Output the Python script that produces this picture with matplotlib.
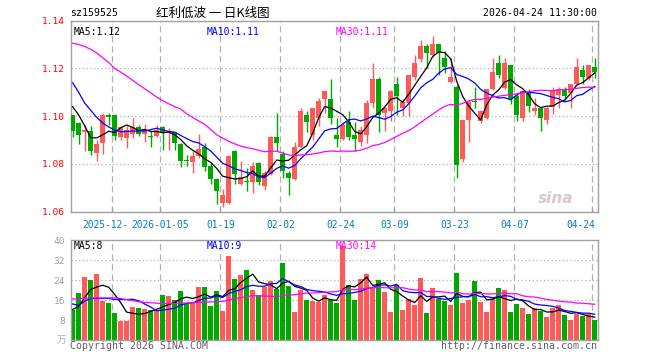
import numpy as np
import pandas as pd
import matplotlib
matplotlib.use('Agg')
import matplotlib.pyplot as plt

plt.rcParams['font.family'] = ['DejaVu Sans Mono', 'Noto Sans CJK SC']

# daily candles, 2025-12-11 .. 2026-04-24 (88 trading days)
opens = [1.1003, 1.0972, 1.0933, 1.0936, 1.0844, 1.0886, 1.1006, 1.1006, 1.0911, 1.0907,
         1.0925, 1.0956, 1.0925, 1.0915, 1.0915, 1.0956, 1.0928, 1.0933, 1.0885, 1.0815,
         1.0807, 1.0835, 1.0871, 1.0790, 1.0735, 1.0638, 1.0635, 1.0856, 1.0714, 1.0725,
         1.0724, 1.0804, 1.0708, 1.0758, 1.0914, 1.0842, 1.0763, 1.0735, 1.0872, 1.1006,
         1.0922, 1.0994, 1.1072, 1.1072, 1.0922, 1.0904, 1.0974, 1.0922, 1.0894, 1.0922,
         1.1054, 1.1156, 1.1015, 1.1022, 1.1133, 1.1036, 1.1054, 1.1165, 1.1238, 1.1293,
         1.1258, 1.1301, 1.1244, 1.1144, 1.1122, 1.0822, 1.0985, 1.1064, 1.0978, 1.0994,
         1.1114, 1.1221, 1.1117, 1.1214, 1.1086, 1.0994, 1.1096, 1.1022, 1.1033, 1.0985,
         1.1040, 1.1089, 1.1114, 1.1096, 1.1133, 1.1193, 1.1158, 1.1207]
highs = [1.1005, 1.0975, 1.0964, 1.0957, 1.0901, 1.1013, 1.1014, 1.1010, 1.0958, 1.0957,
         1.0994, 1.0962, 1.0967, 1.0939, 1.0964, 1.0958, 1.0950, 1.0935, 1.0887, 1.0839,
         1.0853, 1.0925, 1.0888, 1.0804, 1.0742, 1.0693, 1.0838, 1.0858, 1.0814, 1.0783,
         1.0807, 1.0807, 1.0769, 1.0916, 1.1013, 1.0853, 1.0769, 1.0894, 1.1033, 1.1022,
         1.1035, 1.1075, 1.1106, 1.1156, 1.0992, 1.0975, 1.1022, 1.0974, 1.0957, 1.1068,
         1.1221, 1.1165, 1.1040, 1.1110, 1.1163, 1.1072, 1.1172, 1.1256, 1.1321, 1.1301,
         1.1335, 1.1301, 1.1272, 1.1242, 1.1131, 1.0985, 1.1068, 1.1122, 1.1026, 1.1114,
         1.1244, 1.1256, 1.1244, 1.1214, 1.1096, 1.1110, 1.1113, 1.1078, 1.1040, 1.1040,
         1.1124, 1.1124, 1.1124, 1.1133, 1.1242, 1.1214, 1.1214, 1.1244]
lows = [1.0912, 1.0883, 1.0853, 1.0836, 1.0811, 1.0842, 1.0964, 1.0901, 1.0901, 1.0867,
        1.0908, 1.0918, 1.0894, 1.0869, 1.0912, 1.0860, 1.0860, 1.0860, 1.0788, 1.0790,
        1.0763, 1.0825, 1.0769, 1.0714, 1.0633, 1.0621, 1.0633, 1.0717, 1.0711, 1.0686,
        1.0679, 1.0711, 1.0690, 1.0753, 1.0853, 1.0742, 1.0669, 1.0731, 1.0869, 1.0932,
        1.0901, 1.0957, 1.1013, 1.0969, 1.0869, 1.0901, 1.0901, 1.0853, 1.0874, 1.0888,
        1.1033, 1.0932, 1.0939, 1.0981, 1.1006, 1.1001, 1.0999, 1.1151, 1.1228, 1.1200,
        1.1246, 1.1172, 1.1179, 1.1138, 1.0742, 1.0810, 1.0892, 1.1033, 1.0971, 1.0989,
        1.1110, 1.1161, 1.1114, 1.1051, 1.0981, 1.0981, 1.1017, 1.1006, 1.0939, 1.0967,
        1.1008, 1.1033, 1.1068, 1.1033, 1.1131, 1.1133, 1.1151, 1.1158]
closes = [1.0940, 1.0922, 1.0942, 1.0856, 1.0885, 1.1006, 1.0995, 1.0917, 1.0954, 1.0944,
          1.0956, 1.0925, 1.0943, 1.0913, 1.0943, 1.0929, 1.0939, 1.0888, 1.0813, 1.0812,
          1.0835, 1.0864, 1.0786, 1.0735, 1.0686, 1.0672, 1.0835, 1.0758, 1.0744, 1.0724,
          1.0793, 1.0724, 1.0763, 1.0914, 1.0888, 1.0772, 1.0742, 1.0872, 1.1022, 1.0974,
          1.1035, 1.1064, 1.1106, 1.0994, 1.0904, 1.0964, 1.0914, 1.0904, 1.0943, 1.1054,
          1.1156, 1.1006, 1.1033, 1.1106, 1.1086, 1.1061, 1.1172, 1.1221, 1.1293, 1.1265,
          1.1301, 1.1265, 1.1207, 1.1165, 1.0794, 1.0985, 1.1061, 1.1058, 1.1022, 1.1114,
          1.1186, 1.1172, 1.1221, 1.1072, 1.1006, 1.1106, 1.1043, 1.1033, 1.0992, 1.1036,
          1.1110, 1.1114, 1.1086, 1.1133, 1.1207, 1.1165, 1.1214, 1.1186]
volumes = [11.9, 18.7, 25.2, 24.0, 26.4, 15.5, 14.7, 10.8, 7.6, 7.6,
           13.2, 12.7, 12.3, 11.9, 11.6, 18.0, 17.6, 16.0, 19.6, 14.9,
           15.3, 21.2, 21.2, 13.5, 19.6, 11.6, 33.6, 24.5, 26.0, 28.0,
           19.9, 17.9, 21.2, 23.5, 20.5, 30.8, 21.6, 11.2, 20.0, 16.0,
           15.6, 15.2, 18.0, 16.0, 14.9, 37.6, 21.9, 16.0, 24.3, 26.3,
           20.9, 24.0, 19.2, 11.2, 21.9, 11.9, 16.3, 14.0, 24.7, 10.7,
           20.7, 16.5, 15.6, 14.0, 26.7, 14.7, 16.0, 23.6, 15.1, 11.2,
           16.3, 20.7, 19.9, 11.2, 14.3, 12.7, 10.3, 12.7, 11.5, 9.2,
           12.9, 13.9, 9.9, 8.0, 10.3, 9.6, 10.3, 8.0]

# moving-average values at the left edge (earlier days are off the chart)
ma5_head = [1.1040, 1.1005, 1.0960, 1.0910]
ma10_head = [1.1140, 1.1100, 1.1055, 1.1025, 1.0995, 1.0972, 1.0955, 1.0942, 1.0935]
ma30_head = [1.1306, 1.1300, 1.1292, 1.1280, 1.1265, 1.1245, 1.1225, 1.1200, 1.1185, 1.1168,
             1.1150, 1.1132, 1.1115, 1.1098, 1.1080, 1.1065, 1.1052, 1.1040, 1.1030, 1.1010,
             1.0995, 1.0980, 1.0966, 1.0945, 1.0922, 1.0908, 1.0895, 1.0884, 1.0875]
vma5_head = [12.3, 13.6, 17.0, 20.3]
vma10_head = [14.5, 13.9, 15.6, 16.7, 16.7, 16.7, 16.7, 16.3, 16.3]
vma30_head = [16.5, 16.6, 16.8, 16.9, 16.9, 16.9, 16.9, 16.9, 16.7, 16.2,
              15.8, 15.4, 15.1, 15.0, 14.8, 14.7, 14.7, 14.7, 14.8, 14.9,
              15.0, 15.1, 15.2, 15.3, 15.4, 15.5, 16.0, 16.6, 17.0]

tick_index = [7, 15, 25, 35, 45, 54, 64, 74, 87]
# the first label is cut off by the second one on the original chart
tick_labels = ['2025-12-', '2026-01-05', '01-19', '02-02', '02-24',
               '03-09', '03-23', '04-07', '04-24']
price_ticks = [1.06, 1.08, 1.10, 1.12, 1.14]
vol_ticks = [8, 16, 24, 32, 40]


def moving(values, n, head):
    s = pd.Series(values).rolling(n).mean()
    s.iloc[:len(head)] = head
    return s.values


RED = '#ff5a5a'
GREEN = '#00a800'
GRID = '#b0b0b0'
FRAME = '#a0a0a0'

x = np.arange(len(closes))
o = np.array(opens); c = np.array(closes)
h = np.array(highs); l = np.array(lows)
up = c >= o
colors = np.where(up, RED, GREEN)

fig = plt.figure(figsize=(6.6, 3.6), dpi=100)
W, H = 660, 360
ax = fig.add_axes([70.7 / W, 1 - 211.7 / H, 527 / W, 191 / H])
axv = fig.add_axes([70.7 / W, 1 - 340.3 / H, 527 / W, 100.3 / H])

xlim = (-0.33, 87.5)
for a in (ax, axv):
    a.set_xlim(*xlim)
    for s in a.spines.values():
        s.set_color(FRAME)
        s.set_linewidth(1)
    for t in tick_index:
        a.axvline(t - 0.37, color=GRID, lw=0.9, ls=(0, (5, 3)), zorder=0)
    a.set_xticks([])

# price panel
ax.set_ylim(1.06, 1.14)
for p in price_ticks[1:-1]:
    ax.axhline(p, color=GRID, lw=0.9, ls=(0, (1, 2)), zorder=0)
ax.set_yticks(price_ticks)
ax.set_yticklabels(['%.2f' % p for p in price_ticks])
ax.tick_params(axis='y', length=0, pad=4, labelsize=6.8, labelcolor='#ff0000')

ax.vlines(x, l, h, colors=colors, lw=1, zorder=2)
ax.bar(x, np.maximum(np.abs(c - o), 0.0004), bottom=np.minimum(o, c), width=0.78,
       color=colors, linewidth=0, zorder=3)

ma5 = moving(closes, 5, ma5_head)
ma10 = moving(closes, 10, ma10_head)
ma30 = moving(closes, 30, ma30_head)
ax.plot(x, ma5, color='black', lw=0.9, zorder=4)
ax.plot(x, ma10, color='#0000ff', lw=0.9, zorder=4)
ax.plot(x, ma30, color='#ff00ff', lw=0.9, zorder=4)

# small ticks on the bottom border
for t in tick_index:
    ax.plot([t - 0.37, t - 0.37], [1.06, 1.0615], color=FRAME, lw=0.9, zorder=5)

ax.text(0.2, 1.1375, 'MA5:%.2f' % ma5[-1], color='black', fontsize=7, va='top')
ax.text(22.3, 1.1375, 'MA10:%.2f' % ma10[-1], color='#0000ff', fontsize=7, va='top')
ax.text(43.8, 1.1375, 'MA30:%.2f' % ma30[-1], color='#ff00ff', fontsize=7, va='top')

ax.text(80.5, 1.0655, 'sina', color='#d8c8c8', fontsize=11, fontweight='bold',
        style='italic', family='DejaVu Sans', ha='center', va='center', zorder=1)

# date labels under the price panel
for i, (t, lab) in enumerate(zip(tick_index, tick_labels)):
    if i == 0:
        ax.text(1.57, 1.0545, lab, color='#0a78c8', fontsize=6.9, ha='left',
                va='center', clip_on=False)
        continue
    ha = 'right' if i == len(tick_index) - 1 else 'center'
    xt = t + 0.1 if ha == 'right' else t - 0.37
    ax.text(xt, 1.0545, lab, color='#0a78c8', fontsize=6.9, ha=ha, va='center',
            clip_on=False)

# volume panel
axv.set_ylim(0, 40)
for v in vol_ticks[:-1]:
    axv.axhline(v, color=GRID, lw=0.9, ls=(0, (1, 2)), zorder=0)
axv.set_yticks(vol_ticks)
axv.tick_params(axis='y', length=0, pad=4, labelsize=6.8, labelcolor='#a0a0a0')
axv.bar(x, volumes, width=0.82, color=colors, linewidth=0, zorder=2)

vma5 = moving(volumes, 5, vma5_head)
vma10 = moving(volumes, 10, vma10_head)
vma30 = moving(volumes, 30, vma30_head)
axv.plot(x, vma5, color='black', lw=0.9, zorder=4)
axv.plot(x, vma10, color='#0000ff', lw=0.9, zorder=4)
axv.plot(x, vma30, color='#ff00ff', lw=0.9, zorder=4)

axv.text(0.2, 39.5, 'MA5:8', color='black', fontsize=7, va='top', zorder=5)
axv.text(22.3, 39.5, 'MA10:9', color='#0000ff', fontsize=7, va='top', zorder=5)
axv.text(43.8, 39.5, 'MA30:14', color='#ff00ff', fontsize=7, va='top', zorder=5)

# header and footer texts
fig.text(70 / W, 1 - 13 / H, 'sz159525', fontsize=7.1, va='center', ha='left')
fig.text(213 / W, 1 - 13 / H, '红利低波 一 日K线图', fontsize=9,
         family=['Noto Sans CJK SC', 'DejaVu Sans'], va='center', ha='center')
fig.text(597 / W, 1 - 13 / H, '2026-04-24 11:30:00', fontsize=7.1, va='center', ha='right')
fig.text(66 / W, 1 - 340 / H, '万', fontsize=7, color='#b0b0b0',
         family=['Noto Sans CJK SC', 'DejaVu Sans'], va='center', ha='right')
fig.text(70 / W, 1 - 346 / H, 'Copyright 2026 SINA.COM', fontsize=7.1,
         color='#606060', va='center', ha='left')
fig.text(597 / W, 1 - 346 / H, 'http://finance.sina.com.cn', fontsize=7.1,
         color='#606060', va='center', ha='right')

fig.savefig('out.png', dpi=100, facecolor='white')
